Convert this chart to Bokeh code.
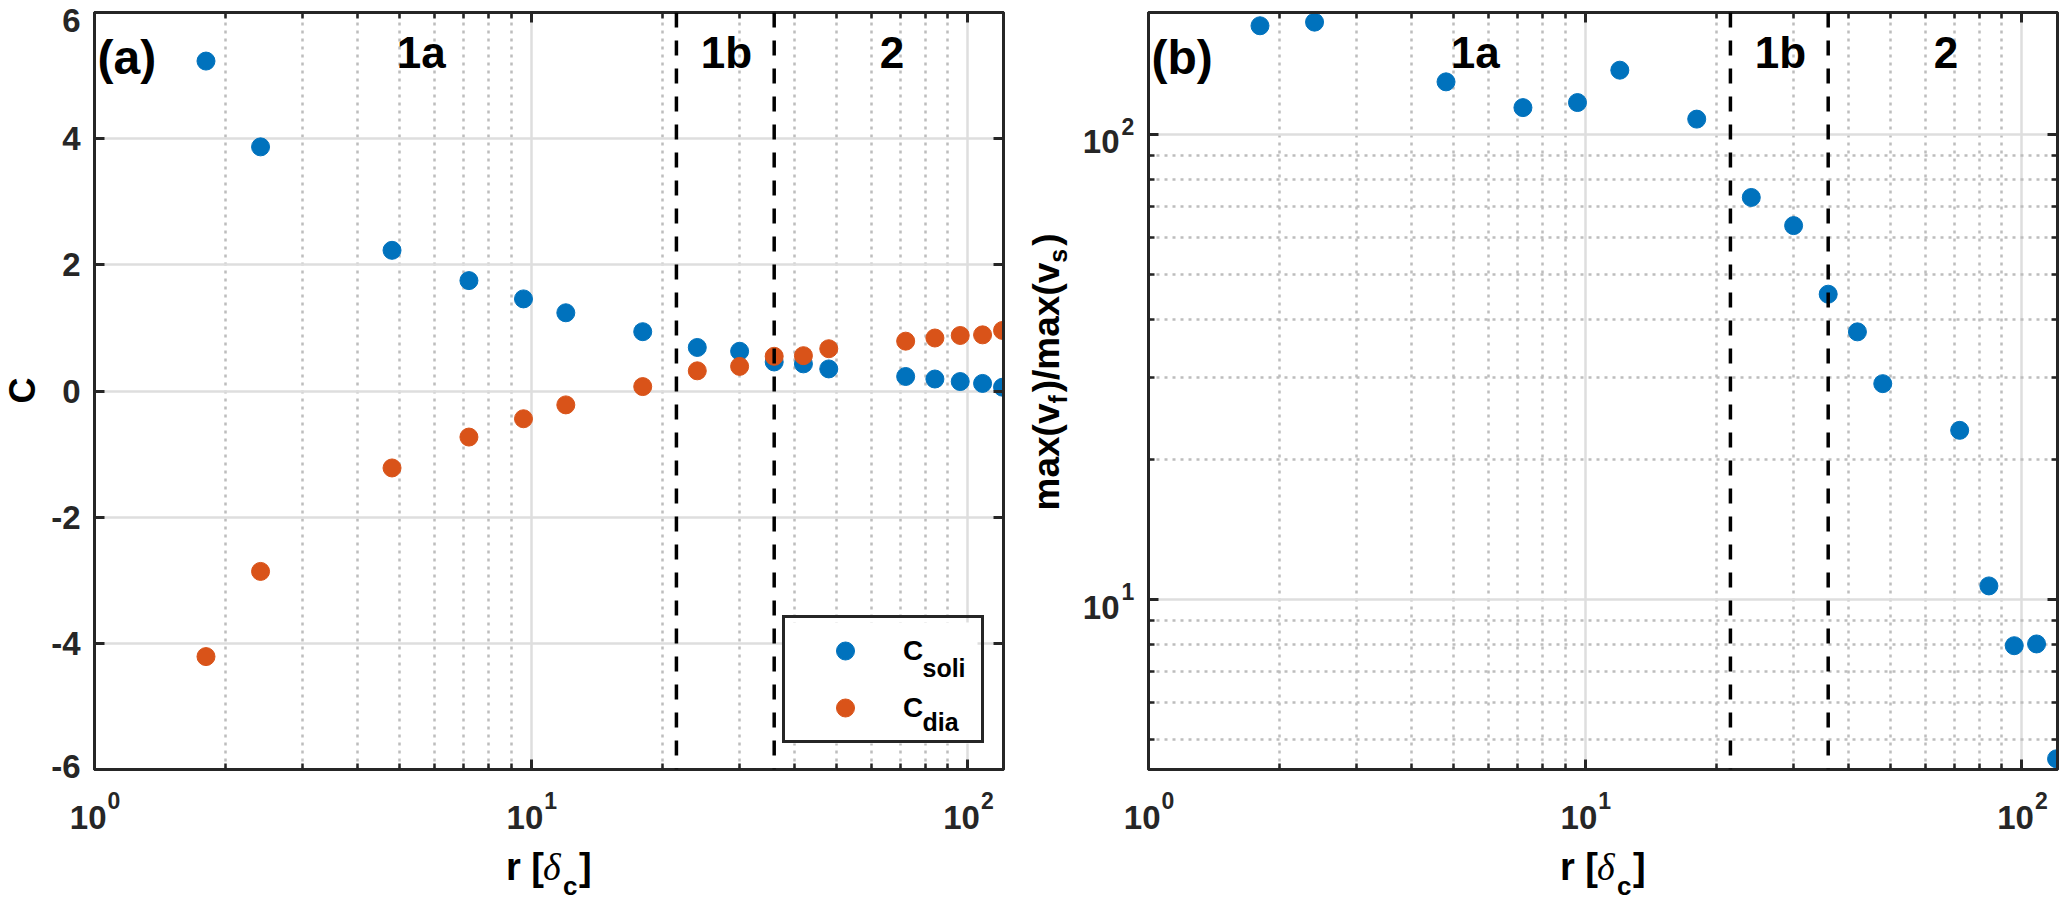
import math
from bokeh.plotting import figure
from bokeh.layouts import row, column
from bokeh.models import (Range1d, FixedTicker, LogAxis, LinearAxis, Span, Label,
                          Legend, LegendItem, CustomJSTickFormatter, BoxAnnotation)
from bokeh.embed import file_html
from bokeh.resources import INLINE

# ---------------- data ----------------
r = [1.8, 2.4, 4.8, 7.2, 9.6, 12, 18, 24, 30, 36, 42, 48, 72, 84, 96, 108, 120]
c_soli = [5.23, 3.87, 2.23, 1.75, 1.46, 1.24, 0.94, 0.69, 0.63, 0.46, 0.43, 0.35,
          0.23, 0.19, 0.15, 0.12, 0.06]
c_dia = [-4.21, -2.86, -1.22, -0.73, -0.44, -0.22, 0.07, 0.32, 0.39, 0.55, 0.56, 0.67,
         0.79, 0.84, 0.88, 0.89, 0.96]
v_ratio = [170.9, 174.0, 129.5, 114.0, 116.9, 137.2, 107.7, 73.1, 63.6, 45.3, 37.6, 29.1,
           23.1, 10.7, 7.96, 8.03, 4.55]
region_bounds = [21.5, 36.0]
region_names = ["1a", "1b", "2"]
region_centers = [5.6, 28.0, 67.0]
x_major_ticks = [1, 10, 100]
x_minor_ticks = [2, 3, 4, 5, 6, 7, 8, 9, 20, 30, 40, 50, 60, 70, 80, 90]
x_tick_exp = ["0", "1", "2"]
ya_ticks = [-6, -4, -2, 0, 2, 4, 6]
ya_tick_labels = ["-6", "-4", "-2", "0", "2", "4", "6"]
yb_major_ticks = [10, 100]
yb_minor_ticks = [5, 6, 7, 8, 9, 20, 30, 40, 50, 60, 70, 80, 90]
yb_tick_exp = ["1", "2"]

# ---------------- layout constants (page pixels, layout origin at 0,0) ----------------
X_LO, X_HI = 1.0, 120.6
YA_LO, YA_HI = -6.0, 6.0
YB_LO, YB_HI = 4.315, 182.5
FW, FH = 909, 757
FA_L, FB_L, F_T = 94, 1148, 12
TOP_H = 786
BOT_H = 115
PXDEC_X = FW / math.log10(X_HI / X_LO)
PXDEC_B = FH / math.log10(YB_HI / YB_LO)

BLUE = "#0072BD"
ORANGE = "#D95319"
AX = "#262626"
FONT = "Liberation Sans"


def px_x(px, L):
    return X_LO * 10 ** ((px - L) / PXDEC_X)


def py_a(py):
    return YA_HI - (py - F_T) / FH * (YA_HI - YA_LO)


def py_b(py):
    return YB_HI * 10 ** (-(py - F_T) / PXDEC_B)


def mid(baseline, size):
    # centre of the em box for a text whose baseline is given (text drawn upright)
    return baseline - 0.3465 * size


def lab(p, text, x, y, size, align="left", angle=0.0,
        font=FONT, style="bold", color="black"):
    p.add_layout(Label(x=x, y=y, x_units="data", y_units="data", text=text,
                       text_font=font, text_font_size=f"{size}px", text_font_style=style,
                       text_align=align, text_baseline="middle", angle=angle,
                       text_color=color))


def no_align(p):
    try:
        p.frame_align = False
    except Exception:
        pass


def style_axis(ax, ticker):
    ax.ticker = ticker
    ax.axis_line_color = AX
    ax.axis_line_width = 3
    ax.major_tick_line_color = AX
    ax.major_tick_line_width = 3
    ax.minor_tick_line_color = AX
    ax.minor_tick_line_width = 2.5
    ax.major_tick_in = 10
    ax.major_tick_out = 0
    ax.minor_tick_in = 6
    ax.minor_tick_out = 0
    ax.formatter = CustomJSTickFormatter(code="return ''")
    ax.major_label_text_font_size = "0px"
    ax.major_label_standoff = 0


def style_grids(p, xt, yt):
    p.xgrid.ticker = xt
    p.ygrid.ticker = yt
    for g in (p.xgrid, p.ygrid):
        g.grid_line_color = "#dedede"
        g.grid_line_width = 2.5
        g.minor_grid_line_color = "#bdbdbd"
        g.minor_grid_line_width = 2.5
        g.minor_grid_line_dash = "3 5"


def main_fig(width, left, right, y_type, y_range, yticker, ycls):
    p = figure(width=width, height=TOP_H, x_axis_type="log", y_axis_type=y_type,
               x_range=Range1d(X_LO, X_HI), y_range=y_range,
               output_backend="svg", toolbar_location=None,
               min_border_left=left, min_border_right=right,
               min_border_top=F_T, min_border_bottom=TOP_H - F_T - FH)
    no_align(p)
    p.background_fill_color = "white"
    p.border_fill_color = "white"
    p.outline_line_color = AX
    p.outline_line_width = 3
    style_axis(p.xaxis[0], xticker)
    style_axis(p.yaxis[0], yticker)
    top = LogAxis()
    style_axis(top, xticker)
    p.add_layout(top, "above")
    rgt = ycls()
    style_axis(rgt, yticker)
    p.add_layout(rgt, "right")
    style_grids(p, xticker, yticker)
    return p


def text_fig(width, height, xr, yr, x_type="linear", y_type="linear"):
    p = figure(width=width, height=height, x_range=xr, y_range=yr,
               x_axis_type=x_type, y_axis_type=y_type,
               x_axis_location=None, y_axis_location=None,
               output_backend="svg", toolbar_location=None,
               min_border=0, min_border_left=0, min_border_right=0,
               min_border_top=0, min_border_bottom=0)
    no_align(p)
    p.outline_line_color = None
    p.grid.visible = False
    p.background_fill_color = "white"
    p.border_fill_color = "white"
    return p


xticker = FixedTicker(ticks=x_major_ticks, minor_ticks=x_minor_ticks)
ya_ticker = FixedTicker(ticks=ya_ticks, minor_ticks=[])
yb_ticker = FixedTicker(ticks=yb_major_ticks, minor_ticks=yb_minor_ticks)

# ======================= panel (a) =======================
pa = main_fig(930, 4, 17, "linear", Range1d(YA_LO, YA_HI), ya_ticker, LinearAxis)
pa.add_layout(BoxAnnotation(left=px_x(782, FA_L), right=px_x(977, FA_L),
                            top=py_a(622), bottom=py_a(743), fill_color="white",
                            fill_alpha=1.0, line_color=None, level="underlay"))
ra_blue = pa.scatter(r, c_soli, size=18, fill_color=BLUE, line_color=BLUE)
ra_orange = pa.scatter(r, c_dia, size=18, fill_color=ORANGE, line_color=ORANGE)

# ======================= panel (b) =======================
pb = main_fig(915, 4, 2, "log", Range1d(YB_LO, YB_HI), yb_ticker, LogAxis)
pb.scatter(r, v_ratio, size=18, fill_color=BLUE, line_color=BLUE)

# region boundaries and labels
for p, L, pyf, tag in ((pa, FA_L, py_a, "(a)"), (pb, FB_L, py_b, "(b)")):
    for b in region_bounds:
        p.add_layout(Span(location=b, dimension="height", line_color="black",
                          line_width=3.5, line_dash="15 13"))
    lab(p, tag, px_x(L + 3, L), pyf(57), 48)
    for name, xc in zip(region_names, region_centers):
        lab(p, name, xc, pyf(52), 44, align="center")

# legend of (a)
lab(pa, "soli", px_x(922, FA_L), py_a(mid(676, 25)), 25)
lab(pa, "dia", px_x(922, FA_L), py_a(mid(730, 25)), 25)
legend = Legend(items=[LegendItem(label="C", renderers=[ra_blue]),
                       LegendItem(label="C", renderers=[ra_orange])],
                location=(688, 26), padding=10, spacing=12, margin=0,
                glyph_width=100, glyph_height=45, label_standoff=8,
                label_width=68, label_height=45,
                label_text_font=FONT, label_text_font_style="bold",
                label_text_font_size="28px", label_text_color="black",
                border_line_color=AX, border_line_width=3, border_line_alpha=1.0,
                background_fill_alpha=0.0)
pa.add_layout(legend)

# ======================= left text strips =======================
ta_left = text_fig(90, TOP_H, Range1d(0, 90), Range1d(py_a(TOP_H), py_a(0)))
for t, s in zip(ya_ticks, ya_tick_labels):
    ty = max(min(t, py_a(20)), py_a(766))
    lab(ta_left, s, 80, ty, 33, align="right", color=AX)
lab(ta_left, "C", 22, py_a(390), 36, align="center", angle=math.pi / 2)

tb_left = text_fig(124, TOP_H, Range1d(1020, 1144), Range1d(py_b(TOP_H), py_b(0)),
                   y_type="log")
for t, e in zip(yb_major_ticks, yb_tick_exp):
    lab(tb_left, "10", 1119, t * 10 ** (-(19 - 0.3465 * 33) / PXDEC_B), 33,
        align="right", color=AX)
    lab(tb_left, e, 1121, t * 10 ** ((0.3465 * 23) / PXDEC_B), 23, align="left", color=AX)

# rotated label max(v_f)/max(v_s), pieces laid out bottom to top
em = {"max(v": 2.89, "f": 0.333, ")/": 0.611, "s": 0.556, ")": 0.333}
pieces = [("max(v", 37, 0), ("f", 25, 1), (")/", 37, 0), ("max(v", 37, 0),
          ("s", 25, 1), (")", 37, 0)]
ystart = 510.0
for txt, size, sub in pieces:
    base_x = 1066 if sub else 1059
    cx_rot = base_x - 0.3465 * size
    lab(tb_left, txt, cx_rot, py_b(ystart), size, align="left", angle=math.pi / 2)
    ystart -= em[txt] * size + (3 if sub else 0)


# ======================= bottom text strips =======================
def bottom_strip(width, page_left, L):
    t = text_fig(width, BOT_H, Range1d(px_x(page_left, L), px_x(page_left + width, L)),
                 Range1d(TOP_H + BOT_H, TOP_H), x_type="log")
    for tk, e in zip(x_major_ticks, x_tick_exp):
        lab(t, "10", tk * 10 ** (12 / PXDEC_X), mid(828, 33), 33, align="right", color=AX)
        lab(t, e, tk * 10 ** (13 / PXDEC_X), mid(808, 23), 23, align="left", color=AX)
    cx = L + FW / 2.0
    lab(t, "r [", px_x(cx - 43, L), mid(880, 38), 38)
    lab(t, "δ", px_x(cx - 6, L), mid(880, 38), 38, font="Liberation Serif", style="italic")
    lab(t, "c", px_x(cx + 14, L), mid(895, 26), 26)
    lab(t, "]", px_x(cx + 30, L), mid(880, 38), 38)
    return t


ta_bot = bottom_strip(1020, 0, FA_L)
tb_bot = bottom_strip(1039, 1020, FB_L)

layout = row(column(row(ta_left, pa), ta_bot), column(row(tb_left, pb), tb_bot))
open("out.html", "w").write(file_html(layout, INLINE))
